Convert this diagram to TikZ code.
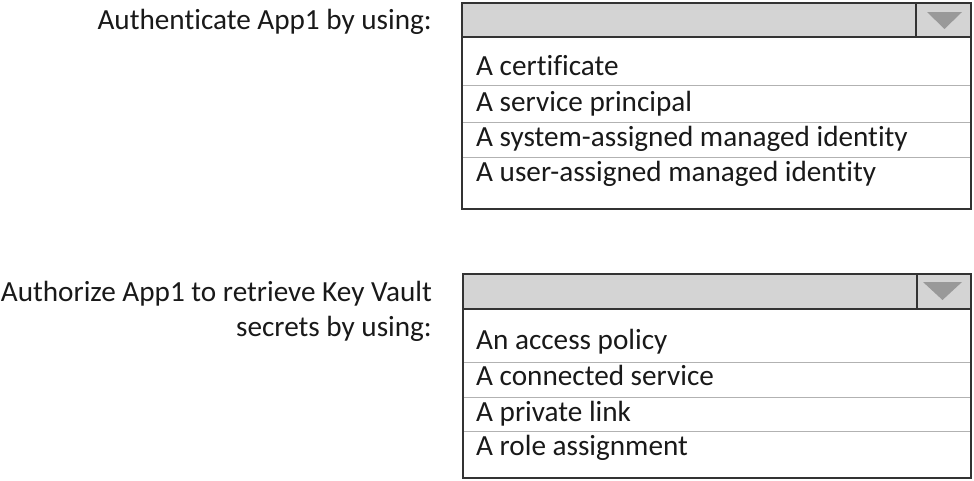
\documentclass[tikz,border=0pt]{standalone}
\usepackage{fontspec}
\setmainfont[Ligatures=NoCommon]{Carlito}
\begin{document}
\begin{tikzpicture}[x=1pt, y=-1pt,
  question/.style={anchor=base east, inner sep=0pt, text=black!90, font=\fontsize{29.2}{31}\selectfont},
  option/.style={anchor=base west, inner sep=0pt, text=black!90, font=\fontsize{29.2}{31}\selectfont},
  frame/.style={draw=black!80, line width=1.4pt},
  header/.style={fill=black!17},
  divider/.style={draw=black!30, line width=0.8pt},
  arrowhead/.style={fill=black!40}]
\useasboundingbox (0,0) rectangle (974,480);

% first question
\node [question] (ask1) at (432,29) {Authenticate App1 by using:};
\fill [header] (462,3) rectangle (971,37);
\draw [frame] (916,3) -- (916,37);
\fill [arrowhead] (927,12) -- (962,12) -- (944.5,29) -- cycle;
\draw [divider] (462,85) -- (971,85);
\draw [divider] (462,122) -- (971,122);
\draw [divider] (462,157) -- (971,157);
\draw [frame] (462,37) -- (971,37);
\draw [frame] (462,3) rectangle (971,209);
\node [option] (cert) at (476,75) {A certificate};
\node [option] (sp) at (476,111) {A service principal};
\node [option] (sysmi) at (476,146.5) {A system-assigned managed identity};
\node [option] (usermi) at (476,181.5) {A user-assigned managed identity};

% second question
\node [question] (ask2) at (432,301.5) {Authorize App1 to retrieve Key Vault};
\node [question] (ask2b) at (432,336.5) {secrets by using:};
\fill [header] (463,274) rectangle (971,309);
\draw [frame] (917,274) -- (917,309);
\fill [arrowhead] (923,282) -- (962,282) -- (942.5,300) -- cycle;
\draw [divider] (463,362) -- (971,362);
\draw [divider] (463,397) -- (971,397);
\draw [divider] (463,431) -- (971,431);
\draw [frame] (463,309) -- (971,309);
\draw [frame] (463,274) rectangle (971,478);
\node [option] (policy) at (476,349.5) {An access policy};
\node [option] (conn) at (476,385) {A connected service};
\node [option] (plink) at (476,421) {A private link};
\node [option] (role) at (476,455.5) {A role assignment};
\end{tikzpicture}
\end{document}
